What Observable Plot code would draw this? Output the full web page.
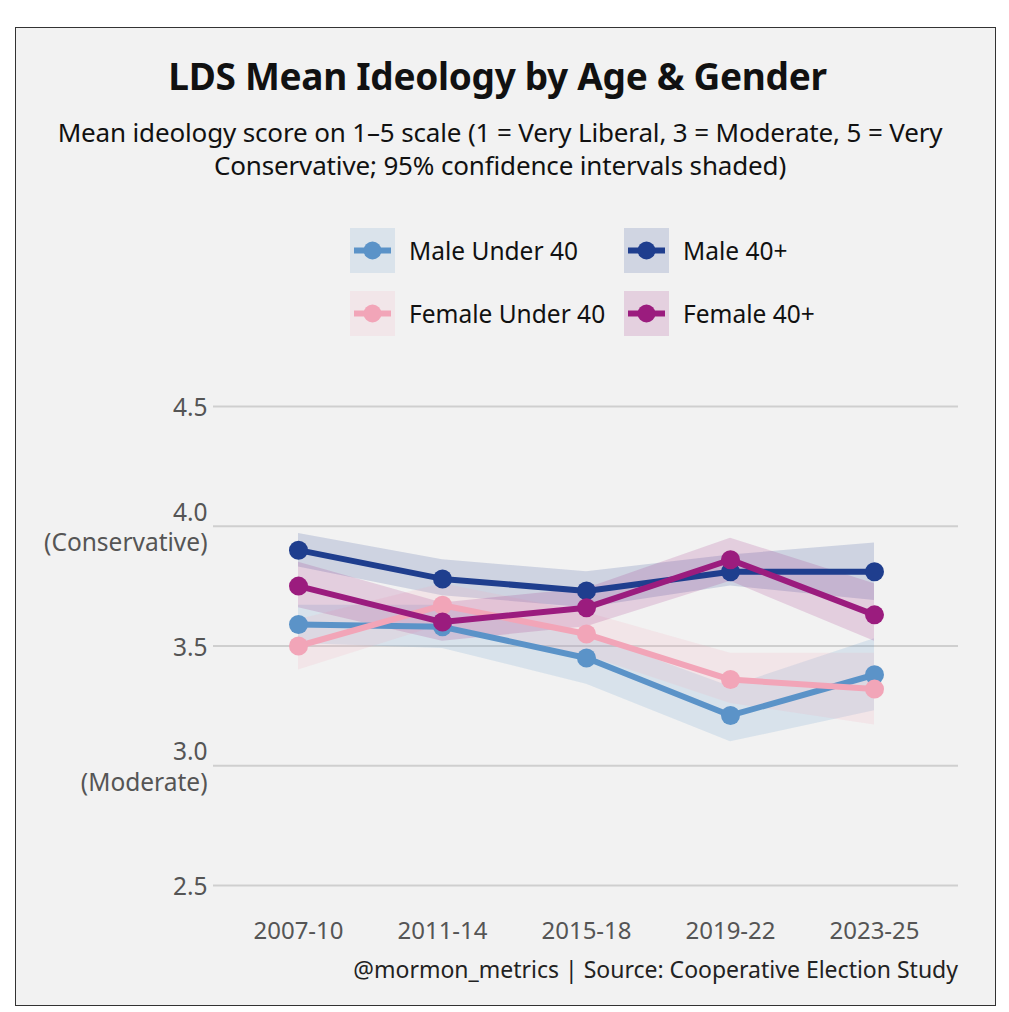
<!DOCTYPE html>
<html>
<head>
<meta charset="utf-8">
<script src="https://cdn.jsdelivr.net/npm/d3@7"></script>
<script src="https://cdn.jsdelivr.net/npm/@observablehq/plot@0.6"></script>
<style>
  html, body { margin: 0; padding: 0; background: #ffffff; }
  body { width: 1009px; height: 1012px; position: relative; font-family: "Noto Sans", sans-serif; overflow: hidden; }
  #frame { position: absolute; left: 15px; top: 27px; width: 981px; height: 979px; box-sizing: border-box; border: 1.5px solid #333; background: #f2f2f2; }
  #title { position: absolute; left: 0; width: 995px; top: 50px; text-align: center; font-size: 37px; font-weight: 700; color: #111; letter-spacing: -0.3px; }
  #subtitle { position: absolute; left: 10px; width: 980px; top: 116px; text-align: center; font-size: 26px; line-height: 33px; color: #111; letter-spacing: -0.15px; }
  #legend { position: absolute; left: 0; top: 0; }
  .li { position: absolute; display: flex; align-items: center; font-size: 24.5px; color: #111; white-space: nowrap; }
  .sw { width: 45px; height: 45px; margin-right: 14px; flex: none; }
  #caption { position: absolute; right: 51px; top: 953px; font-size: 23px; color: #222; white-space: nowrap; }
  #chart { position: absolute; left: 0; top: 370px; }
</style>
</head>
<body>
<div id="frame"></div>
<div id="title">LDS Mean Ideology by Age &amp; Gender</div>
<div id="subtitle">Mean ideology score on 1–5 scale (1 = Very Liberal, 3 = Moderate, 5 = Very Conservative; 95% confidence intervals shaded)</div>
<div id="legend"></div>
<div id="chart"></div>
<div id="caption">@mormon_metrics | Source: Cooperative Election Study</div>
<script>
const periods = ["2007-10", "2011-14", "2015-18", "2019-22", "2023-25"];
const seriesNames = ["Male Under 40", "Male 40+", "Female Under 40", "Female 40+"];
const seriesColors = ["#5b93c8", "#1f3e8e", "#f2a5b8", "#9b1c7e"];

const maleUnder40   = [3.59, 3.58, 3.45, 3.21, 3.38];
const maleUnder40Lo = [3.51, 3.49, 3.34, 3.10, 3.23];
const maleUnder40Hi = [3.67, 3.67, 3.55, 3.33, 3.53];

const male40   = [3.90, 3.78, 3.73, 3.81, 3.81];
const male40Lo = [3.83, 3.71, 3.66, 3.75, 3.69];
const male40Hi = [3.97, 3.86, 3.81, 3.88, 3.93];

const femaleUnder40   = [3.50, 3.67, 3.55, 3.36, 3.32];
const femaleUnder40Lo = [3.40, 3.59, 3.46, 3.26, 3.17];
const femaleUnder40Hi = [3.61, 3.76, 3.64, 3.47, 3.47];

const female40   = [3.75, 3.60, 3.66, 3.86, 3.63];
const female40Lo = [3.66, 3.52, 3.58, 3.77, 3.52];
const female40Hi = [3.85, 3.68, 3.74, 3.95, 3.76];

const yTicks = [2.5, 3.0, 3.5, 4.0, 4.5];
const yTickLabels = ["2.5", "3.0\n(Moderate)", "3.5", "4.0\n(Conservative)", "4.5"];

const seriesValues = [
  [maleUnder40, maleUnder40Lo, maleUnder40Hi],
  [male40, male40Lo, male40Hi],
  [femaleUnder40, femaleUnder40Lo, femaleUnder40Hi],
  [female40, female40Lo, female40Hi]
];

const rows = [];
seriesNames.forEach((s, i) => {
  periods.forEach((p, j) => {
    rows.push({series: s, period: p, mean: seriesValues[i][0][j], lo: seriesValues[i][1][j], hi: seriesValues[i][2][j]});
  });
});

const marks = [Plot.gridY(yTicks, {stroke: "#cfcfcf", strokeOpacity: 1, strokeWidth: 2})];
seriesNames.forEach((s) => {
  marks.push(Plot.areaY(rows.filter(d => d.series === s), {x: "period", y1: "lo", y2: "hi", fill: "series", fillOpacity: 0.17}));
});
seriesNames.forEach((s) => {
  const d = rows.filter(r => r.series === s);
  marks.push(Plot.line(d, {x: "period", y: "mean", stroke: "series", strokeWidth: 6}));
  marks.push(Plot.dot(d, {x: "period", y: "mean", fill: "series", r: 9.5}));
});
marks.push(Plot.axisY({ticks: yTicks, tickFormat: v => yTickLabels[yTicks.indexOf(v)], tickSize: 0, tickPadding: 6, fontSize: 24.5, color: "#555", lineHeight: 1.25}));
marks.push(Plot.axisX({tickSize: 0, tickPadding: 12, fontSize: 24, color: "#555"}));

const chart = Plot.plot({
  width: 1009,
  height: 620,
  marginTop: 12,
  marginBottom: 81,
  marginLeft: 213,
  marginRight: 51,
  style: {background: "transparent", fontFamily: "Noto Sans, sans-serif", color: "#555", overflow: "visible"},
  x: {type: "point", domain: periods, padding: 0.585, label: null},
  y: {domain: [2.4, 4.6], label: null},
  color: {domain: seriesNames, range: seriesColors},
  marks
});
document.getElementById("chart").appendChild(chart);

// Legend
const legendPos = [[350, 228], [624, 228], [350, 291], [624, 291]];
const legend = document.getElementById("legend");
seriesNames.forEach((s, i) => {
  const c = seriesColors[i];
  const item = document.createElement("div");
  item.className = "li";
  item.style.left = legendPos[i][0] + "px";
  item.style.top = legendPos[i][1] + "px";
  item.innerHTML = `<svg class="sw" viewBox="0 0 45 45"><rect width="45" height="45" fill="${c}" fill-opacity="0.16"/><line x1="4" x2="41" y1="22.5" y2="22.5" stroke="${c}" stroke-width="6"/><circle cx="22.5" cy="22.5" r="9" fill="${c}"/></svg><span>${s}</span>`;
  legend.appendChild(item);
});
</script>
</body>
</html>
